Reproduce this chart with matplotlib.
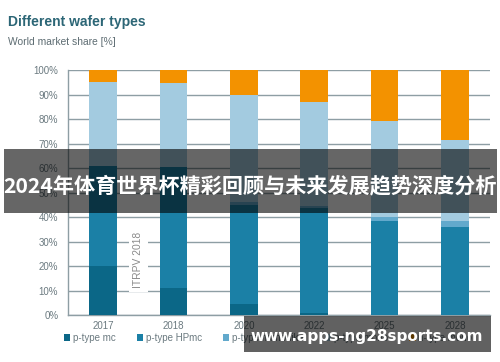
import matplotlib
matplotlib.use("Agg")
import matplotlib.pyplot as plt
from matplotlib.patches import Rectangle, Patch
import numpy as np

plt.rcParams["font.family"] = ["Liberation Sans", "DejaVu Sans"]

# ── data ──
years = ["2017", "2018", "2020", "2022", "2025", "2028"]
p_mc = [20, 11, 4.5, 1, 0, 0]
p_hpmc = [41, 49.5, 40.5, 42.5, 38.4, 36]
p_mono_like = [0, 0, 1, 1, 1.6, 2.5]
p_mono = [34, 34, 44, 42.5, 39.2, 32.9]
n_mono = [5, 5.5, 10, 13, 20.8, 28.6]

series = [
    ("p-type mc", p_mc, "#0b6787"),
    ("p-type HPmc", p_hpmc, "#1b80a6"),
    ("p-type mono-like", p_mono_like, "#62a9cc"),
    ("p-type mono", p_mono, "#a3cbe0"),
    ("n-type mono", n_mono, "#f39200"),
]

GRID = "#8e9ea4"
TXT = "#6b7a80"

fig = plt.figure(figsize=(5, 3.62), dpi=100)
fig.patch.set_facecolor("white")
ax = fig.add_axes([0.136, 0.1298, 0.844, 0.6768])

x = np.arange(len(years))
bottom = np.zeros(len(years))
for label, vals, color in series:
    vals = np.array(vals, dtype=float)
    ax.bar(x, vals, width=0.39, bottom=bottom, color=color, label=label,
           zorder=3, linewidth=0)
    bottom += vals

ax.set_xlim(-0.5, len(years) - 0.5)
ax.set_ylim(0, 100)
ax.set_yticks(np.arange(0, 101, 10))
ax.set_yticklabels([f"{v}%" for v in range(0, 101, 10)])
ax.set_xticks(x)
ax.set_xticklabels(years)
ax.tick_params(axis="both", length=0, labelsize=7, colors=TXT)
ax.tick_params(axis="y", pad=7)
ax.tick_params(axis="x", pad=4)
ax.yaxis.grid(True, color=GRID, linewidth=1.0, zorder=1)
ax.set_axisbelow(True)
for side in ["top", "right"]:
    ax.spines[side].set_visible(False)
ax.spines["left"].set_color(GRID)
ax.spines["bottom"].set_color(GRID)
ax.spines["left"].set_linewidth(1.0)
ax.spines["bottom"].set_linewidth(1.0)

# source label
ax.text(0.5, 22.4, "ITRPV 2018", rotation=90, ha="center", va="center",
        fontsize=7.4, color="#8a8a8a", zorder=4,
        bbox=dict(facecolor="white", edgecolor="none", pad=3))

# title
fig.text(0.016, 0.94, "Different wafer types", fontsize=10, fontweight="bold",
         color="#2c6676", ha="left", va="center")
fig.text(0.016, 0.884, "World market share [%]", fontsize=7.4,
         color="#5d6c72", ha="left", va="center")

# legend
handles = [Patch(facecolor=c, edgecolor="none") for _, _, c in series]
labels = [s[0] for s in series]
fig.legend(handles, labels, loc="center left", bbox_to_anchor=(0.128, 0.066),
           ncol=5, frameon=False, fontsize=7, labelcolor=TXT,
           handlelength=0.65, handleheight=0.65, handletextpad=0.25,
           columnspacing=2.2, borderaxespad=0, borderpad=0)

# overlay banner across the middle
fig.patches.append(Rectangle((0.008, 0.412), 0.986, 0.177, transform=fig.transFigure,
                             facecolor="black", alpha=0.6, edgecolor="none", zorder=10))
fig.text(0.5, 0.487, "2024年体育世界杯精彩回顾与未来发展趋势深度分析",
         family=["Noto Sans CJK SC", "DejaVu Sans"], fontweight="bold",
         fontsize=15.2, color="white", ha="center", va="center", zorder=11)

# watermark box at bottom right
fig.patches.append(Rectangle((0.488, 0.027), 0.494, 0.101, transform=fig.transFigure,
                             facecolor="black", alpha=0.62, edgecolor="none", zorder=10))
fig.text(0.734, 0.07, "www.apps-ng28sports.com", family=["DejaVu Sans"],
         fontweight="bold", fontsize=11, color="white", ha="center", va="center",
         zorder=11)

fig.savefig("out.png", dpi=100, facecolor="white")
